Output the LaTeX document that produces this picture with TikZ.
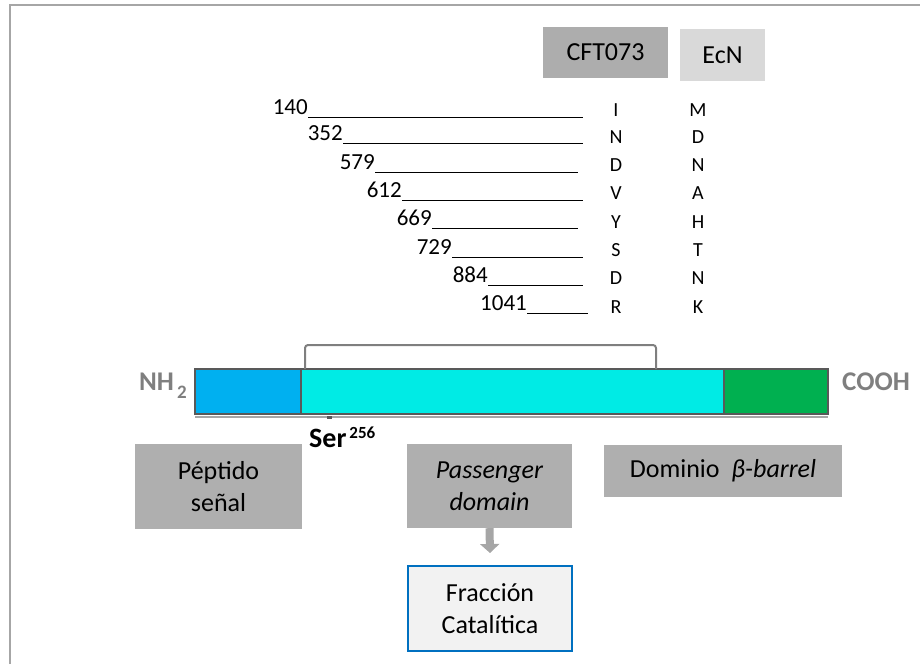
\documentclass[tikz,border=0pt]{standalone}
\usepackage{fontspec}
\setmainfont{Carlito}
\usetikzlibrary{arrows.meta}
\definecolor{framegray}{HTML}{A6A6A6}
\definecolor{boxgray}{HTML}{AFAFAF}
\definecolor{cftgray}{HTML}{ADADAD}
\definecolor{ecngray}{HTML}{D9D9D9}
\definecolor{barblue}{HTML}{00B0F0}
\definecolor{barcyan}{HTML}{00EBE5}
\definecolor{bargreen}{HTML}{00B050}
\definecolor{barborder}{HTML}{595959}
\definecolor{termgray}{HTML}{7F7F7F}
\definecolor{fracfill}{HTML}{F2F2F2}
\definecolor{fracblue}{HTML}{0070C0}
\tikzset{
  lbox/.style={fill=boxgray, draw=none, align=center, inner sep=0pt,
    font=\fontsize{26}{32}\selectfont},
  resnum/.style={anchor=base east, inner sep=0pt, font=\fontsize{23}{23}\selectfont},
  resaa/.style={anchor=base, inner sep=0pt, font=\fontsize{20}{20}\selectfont},
  uline/.style={draw=black, line width=0.9pt},
  barseg/.style={draw=barborder, line width=1.5pt},
  term/.style={inner sep=0pt, text=termgray, font=\fontsize{27}{27}\selectfont\bfseries},
}
\begin{document}
\begin{tikzpicture}[x=1pt,y=-1pt]
\useasboundingbox (0,0) rectangle (920,664);
% frame
\draw[framegray, line width=2pt] (10,664) -- (10,5) -- (920,5);

% header boxes
\node[lbox, fill=cftgray, minimum width=125pt, minimum height=51pt] (cft) at (605.5,52.5) {CFT073};
\node[lbox, fill=ecngray, minimum width=85pt, minimum height=52pt] (ecn) at (722.5,55) {EcN};

% residue rows
\coordinate (endA) at (583,0);
\coordinate (endB) at (578,0);
\coordinate (endC) at (588,0);
\node[resnum] (n1) at (308,114) {140};
\node[resnum] (n2) at (343,140) {352};
\node[resnum] (n3) at (375,169) {579};
\node[resnum] (n4) at (402,197) {612};
\node[resnum] (n5) at (432,225) {669};
\node[resnum] (n6) at (452,254) {729};
\node[resnum] (n7) at (488,282) {884};
\node[resnum] (n8) at (527,310) {1041};
\foreach \i/\e in {1/endA,2/endA,3/endB,4/endA,5/endB,6/endA,7/endA,8/endC}{
  \coordinate (u\i) at ([yshift=-3pt]n\i.base east);
  \draw[uline] (u\i) -- (u\i -| \e);
}
\foreach \i/\y/\a/\b in {1/116.5/I/M,2/143.5/N/D,3/171.5/D/N,4/199.5/V/A,5/228.5/Y/H,6/256.5/S/T,7/284.5/D/N,8/313.5/R/K}{
  \node[resaa] (a\i) at (616,\y) {\a};
  \node[resaa] (b\i) at (698,\y) {\b};
}

% bar
\draw[framegray, line width=2pt] (195,417) -- (828,417);
\fill[barborder] (327,416) rectangle (332,418.5);
\draw[barseg, fill=barblue] (195,369) rectangle (301,414);
\draw[barseg, fill=barcyan] (301,369) rectangle (724,414);
\draw[barseg, fill=bargreen] (724,369) rectangle (828,414);
\draw[termgray, line width=2pt, rounded corners=3pt] (305,369) -- (305,345) -- (656,345) -- (656,369);

% termini
\node[term, anchor=base west] (nh) at (139,390) {NH\hspace{3pt}\raisebox{-8pt}{\fontsize{19}{19}\selectfont 2}};
\node[term, anchor=base west] (cooh) at (842,390) {COOH};

% Ser256
\node[anchor=base west, inner sep=0pt, font=\fontsize{28}{28}\selectfont\bfseries] (ser) at (309,447)
  {Ser\hspace{3pt}\raisebox{9pt}{\fontsize{17}{17}\selectfont 256}};

% lower boxes
\node[lbox, minimum width=167pt, minimum height=85pt] (pep) at (218.5,486.5) {Péptido\\señal};
\node[lbox, minimum width=165pt, minimum height=84pt] (pass) at (489.5,486) {\itshape Passenger\\\itshape domain};
\node[lbox, minimum width=238pt, minimum height=52pt] (dom) at (723,471) {Dominio\ \ \textit{β-barrel}};
\node[lbox, fill=fracfill, draw=fracblue, line width=2pt, minimum width=164pt, minimum height=85pt] (frac) at (490,608.5) {Fracción\\Catalítica};

\draw[framegray, line width=8pt, -{Triangle[width=19pt,length=9pt]}] (pass.south) -- ([yshift=12pt]frac.north);
\end{tikzpicture}
\end{document}
